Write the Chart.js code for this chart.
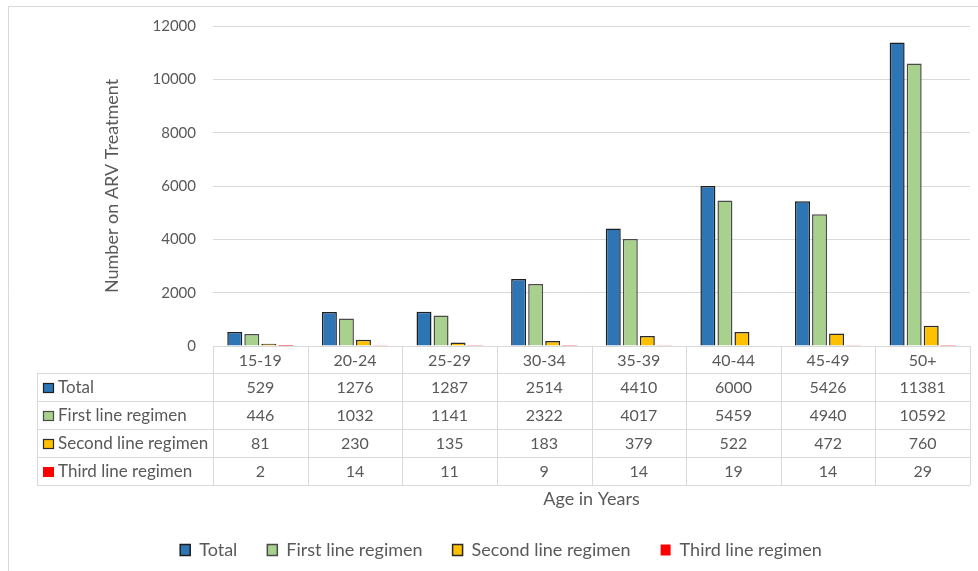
<!DOCTYPE html>
<html>
<head>
<meta charset="utf-8">
<script src="https://cdn.jsdelivr.net/npm/chart.js@4.4.1/dist/chart.umd.min.js"></script>
<style>
  html,body{margin:0;padding:0;background:#fff;}
  #wrap{width:978px;height:571px;position:relative;}
</style>
</head>
<body>
<div id="wrap"><canvas id="chartArv" width="978" height="571"></canvas></div>
<script>
const ageGroups = ['15-19','20-24','25-29','30-34','35-39','40-44','45-49','50+'];
const totalVals  = [529, 1276, 1287, 2514, 4410, 6000, 5426, 11381];
const firstLine  = [446, 1032, 1141, 2322, 4017, 5459, 4940, 10592];
const secondLine = [81, 230, 135, 183, 379, 522, 472, 760];
const thirdLine  = [2, 14, 11, 9, 14, 19, 14, 29];
const yTicks = [0, 2000, 4000, 6000, 8000, 10000, 12000];

const FONT = 'Lato';
const GREY = '#595959';
const LINE = '#d9d9d9';

// data table drawn under the plot, columns follow the x scale
const tablePlugin = {
  id:'dataTable',
  beforeDraw(chart){
    const c = chart.ctx;
    c.save();
    c.strokeStyle = LINE; c.lineWidth = 1;
    c.beginPath();
    c.moveTo(8.5, 6); c.lineTo(8.5, 571);
    c.moveTo(8, 6.5); c.lineTo(978, 6.5);
    c.stroke();
    c.restore();
  },
  afterDraw(chart){
    const c = chart.ctx, xs = chart.scales.x, area = chart.chartArea;
    const n = ageGroups.length;
    const colW = (area.right - area.left)/n;
    const top = area.bottom, headH = 27, rowH = 28;
    const leftX = 37;
    const ds = chart.data.datasets;
    const bottom = top + headH + rowH*ds.length;
    c.save();
    c.strokeStyle = LINE; c.lineWidth = 1;
    c.beginPath();
    c.moveTo(area.left, top+0.5); c.lineTo(area.right, top+0.5);
    for(let r=0;r<=ds.length;r++){
      const y = Math.round(top + headH + r*rowH)+0.5;
      c.moveTo(leftX, y); c.lineTo(area.right, y);
    }
    c.moveTo(leftX+0.5, top+headH); c.lineTo(leftX+0.5, bottom);
    for(let i=0;i<=n;i++){
      const x = Math.round(xs.getPixelForValue(i) - colW/2)+0.5;
      c.moveTo(x, top); c.lineTo(x, bottom);
    }
    c.stroke();

    c.fillStyle = GREY;
    c.font = `16px ${FONT}`;
    c.textAlign = 'center'; c.textBaseline = 'middle';
    ageGroups.forEach((g,i)=>{
      c.fillText(g, xs.getPixelForValue(i), top + headH/2 + 1);
    });
    ds.forEach((d,r)=>{
      const yc = top + headH + r*rowH + rowH/2 + 1;
      c.fillStyle = d.backgroundColor;
      c.fillRect(43, yc-5, 11, 10);
      if(d.borderWidth){ c.strokeStyle = d.borderColor; c.lineWidth = 1.2; c.strokeRect(43.5, yc-4.5, 10, 9); }
      c.fillStyle = GREY; c.textAlign = 'left';
      c.font = `17px ${FONT}`;
      c.fillText(d.label, 58, yc);
      c.font = `16px ${FONT}`;
      c.textAlign = 'center';
      d.data.forEach((v,i)=> c.fillText(String(v), xs.getPixelForValue(i), yc));
    });
    c.restore();
  }
};

new Chart(document.getElementById('chartArv'), {
  type:'bar',
  data:{
    labels: ageGroups,
    datasets:[
      { label:'Total', data: totalVals, backgroundColor:'#2e75b6', borderColor:'#1e1e1e', borderWidth:1.5 },
      { label:'First line regimen', data: firstLine, backgroundColor:'#a9d18e', borderColor:'#4a4a4a', borderWidth:1.5 },
      { label:'Second line regimen', data: secondLine, backgroundColor:'#ffc000', borderColor:'#2a2a2a', borderWidth:1.5 },
      { label:'Third line regimen', data: thirdLine, backgroundColor:'#ff0000', borderColor:'#ff0000', borderWidth:0 }
    ]
  },
  options:{
    responsive:false,
    animation:false,
    layout:{ padding:{ left:32, right:8, top:26, bottom:2 } },
    categoryPercentage:0.72,
    barPercentage:0.88,
    plugins:{
      legend:{
        position:'bottom',
        labels:{ boxWidth:10, boxHeight:11, padding:30, color:GREY, font:{ family:FONT, size:18 } }
      },
      tooltip:{ enabled:false }
    },
    scales:{
      x:{
        grid:{ display:false },
        border:{ display:false },
        ticks:{ display:false },
        title:{ display:true, text:'Age in Years', color:GREY, font:{ family:FONT, size:18 }, padding:{ top:0, bottom:1 } },
        afterFit:(s)=>{ s.height = 165; }
      },
      y:{
        min:0, max:12000,
        afterBuildTicks:(s)=>{ s.ticks = yTicks.map(v=>({ value:v })); },
        grid:{ color:LINE, drawTicks:false, lineWidth:1 },
        border:{ display:false },
        ticks:{ padding:17, color:GREY, font:{ family:FONT, size:15 }, callback:(v)=>String(v) },
        title:{ display:true, text:'Number on ARV Treatment', color:GREY, font:{ family:FONT, size:18 }, padding:{ top:69, bottom:0 } },
        afterFit:(s)=>{ s.width = 181; }
      }
    }
  },
  plugins:[tablePlugin]
});
</script>
</body>
</html>
